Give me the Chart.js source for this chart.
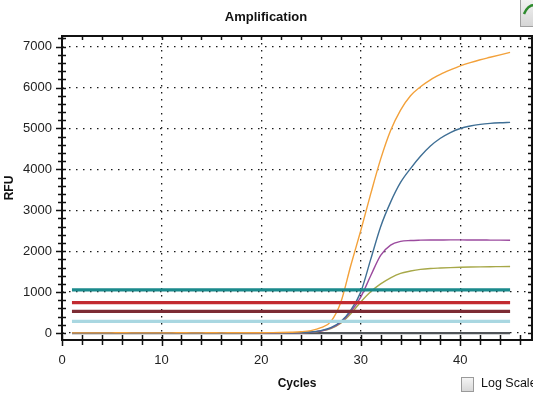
<!DOCTYPE html>
<html>
<head>
<meta charset="utf-8">
<script src="https://cdn.jsdelivr.net/npm/chart.js@4/dist/chart.umd.min.js"></script>
<style>
  html, body { margin:0; padding:0; background:#fff; overflow:hidden; width:533px; height:399px; }
  #wrap { position:relative; width:533px; height:399px; }
  canvas { position:absolute; left:0; top:0; }
  #logbox { position:absolute; left:461px; top:377px; width:11px; height:13px; border:1px solid #9a9a9a;
            background:linear-gradient(#f4f4f4,#d8d8d8); }
  #loglbl { position:absolute; left:481px; top:376px; font:12.5px "Liberation Sans", Arial, sans-serif; color:#111; white-space:nowrap; }
  #icon { position:absolute; left:520px; top:-1px; width:16px; height:26px; border:1px solid #a0a0a0;
          background:linear-gradient(#f2f2f2,#d6d6d6); }
</style>
</head>
<body>
<div id="wrap">
  <canvas id="c" width="533" height="399"></canvas>
  <div id="icon"><svg width="16" height="26"><path d="M3 14 Q7 4 15 5" stroke="#2e8b2e" stroke-width="2.5" fill="none"/></svg></div>
  <div id="logbox"></div>
  <div id="loglbl">Log Scale</div>
</div>
<script>
// ---- data ----
const cycles = [1,2,3,4,5,6,7,8,9,10,11,12,13,14,15,16,17,18,19,20,21,22,23,24,25,26,27,28,29,30,31,32,33,34,35,36,37,38,39,40,41,42,43,44,45];

const orangeRFU = [5,5,5,4,5,6,5,5,4,5,5,6,5,5,6,5,6,7,8,9,11,14,20,32,60,130,280,750,1650,2500,3400,4250,4950,5450,5800,6020,6190,6320,6430,6530,6610,6680,6740,6800,6860];
const blueRFU   = [2,2,2,2,2,2,2,2,2,2,2,2,2,2,2,2,2,2,3,3,4,5,7,10,25,60,130,280,560,1000,1800,2600,3200,3680,4020,4320,4570,4760,4900,5000,5060,5100,5125,5140,5150];
const purpleRFU = [0,0,0,0,0,0,0,0,0,0,0,0,0,0,0,0,0,0,1,1,2,3,5,8,20,50,120,260,520,880,1400,1900,2150,2240,2262,2270,2274,2275,2276,2276,2275,2274,2272,2270,2268];
const oliveRFU  = [0,0,0,0,0,0,0,0,0,0,0,0,0,0,0,0,0,0,1,1,2,3,5,8,20,50,110,240,470,760,1010,1200,1350,1460,1515,1555,1578,1590,1600,1608,1614,1618,1621,1623,1625];
const ntcRFU    = [0,0,0,0,0,0,0,0,0,0,0,0,0,0,0,0,0,0,0,0,0,0,0,0,0,0,0,0,0,0,0,0,0,0,0,0,0,0,0,0,0,0,0,0,0];

const thresholdCycles = [1, 45];
const tealThreshold = 1057;
const redThreshold = 745;
const darkRedThreshold = 530;
const lightBlueThreshold = 286;

const xTickValues = [0,10,20,30,40];
const yTickValues = [0,1000,2000,3000,4000,5000,6000,7000];
const xMinorStep = 2;
const yMinorStep = 200;

// ---- build datasets ----
const pts = arr => cycles.map((c,i) => ({x:c, y:arr[i]}));
const hline = v => thresholdCycles.map(c => ({x:c, y:v}));

const curve = (label, arr, color, w) => ({
  label, data: pts(arr), borderColor: color, borderWidth: w,
  pointRadius: 0, cubicInterpolationMode: 'monotone', fill:false
});
const thr = (label, v, color) => ({
  label, data: hline(v), borderColor: color, borderWidth: 3.2, pointRadius: 0, fill:false
});

const datasets = [
  thr('Threshold A', tealThreshold, '#1b8a8c'),
  thr('Threshold B', redThreshold, '#c22a30'),
  thr('Threshold C', darkRedThreshold, '#7d2c34'),
  thr('Threshold D', lightBlueThreshold, '#a9d7e1'),
  curve('Orange', orangeRFU, '#f3a13a', 1.4),
  curve('Blue', blueRFU, '#3f6f95', 1.4),
  curve('Purple', purpleRFU, '#9b4a9e', 1.4),
  curve('Olive', oliveRFU, '#a7a848', 1.4),
  curve('NTC', ntcRFU, '#505458', 2.2),
];

const framePlugin = {
  id: 'frame',
  afterDraw(chart) {
    const {ctx, chartArea:a, scales:{x, y}} = chart;
    ctx.save();
    ctx.strokeStyle = '#111';
    ctx.lineWidth = 2;
    ctx.strokeRect(a.left, a.top, a.right - a.left, a.bottom - a.top);
    ctx.lineWidth = 1.5;
    ctx.beginPath();
    for (let v = 0; v <= y.max; v += yMinorStep) {
      const py = Math.round(y.getPixelForValue(v)) + 0.5;
      const major = v % 1000 === 0;
      ctx.moveTo(a.left - (major ? 6 : 4), py); ctx.lineTo(a.left + 4, py);
      ctx.moveTo(a.right - 4, py); ctx.lineTo(a.right, py);
    }
    for (let v = 0; v <= x.max; v += xMinorStep) {
      const px = Math.round(x.getPixelForValue(v)) + 0.5;
      const major = v % 10 === 0;
      ctx.moveTo(px, a.bottom - 5); ctx.lineTo(px, a.bottom + (major ? 6 : 5));
      ctx.moveTo(px, a.top); ctx.lineTo(px, a.top + 4);
    }
    ctx.stroke();
    ctx.restore();
  }
};

const font = '"Liberation Sans", Arial, sans-serif';

new Chart(document.getElementById('c'), {
  type: 'line',
  data: { datasets },
  plugins: [framePlugin],
  options: {
    responsive: false,
    animation: false,
    devicePixelRatio: 1,
    layout: { padding: { left: 0, right: 1, top: 0, bottom: 0 } },
    plugins: {
      legend: { display: false },
      tooltip: { enabled: false },
      title: {
        display: true, text: 'Amplification', color: '#111',
        font: { family: font, size: 13, weight: 'bold' },
        padding: { top: 10, bottom: 10.4 }
      }
    },
    scales: {
      x: {
        type: 'linear', min: 0, max: 47.2, z: 1,
        afterBuildTicks: s => { s.ticks = xTickValues.map(v => ({value: v})); },
        afterFit: s => { s.height = 59; },
        grid: { color: '#1a1a1a', lineWidth: 1.3, drawTicks: false },
        border: { display: false, dash: [1.5, 5.5] },
        ticks: { color: '#222', padding: 13, maxRotation: 0, callback: v => String(v),
                 font: { family: font, size: 13 } },
        title: { display: true, text: 'Cycles', color: '#111', padding: { top: 0, bottom: 7.8 },
                 font: { family: font, size: 12, weight: 'bold' } }
      },
      y: {
        type: 'linear', min: -170, max: 7260, z: 1,
        afterBuildTicks: s => { s.ticks = yTickValues.map(v => ({value: v})); },
        afterFit: s => { s.width = 62; },
        grid: { color: '#1a1a1a', lineWidth: 1.3, drawTicks: false },
        border: { display: false, dash: [1.5, 5.5] },
        ticks: { color: '#222', padding: 10, callback: v => String(v),
                 font: { family: font, size: 13 } },
        title: { display: true, text: 'RFU', color: '#111', padding: { top: 2, bottom: 0 },
                 font: { family: font, size: 12, weight: 'bold' } }
      }
    }
  }
});
</script>
</body>
</html>
